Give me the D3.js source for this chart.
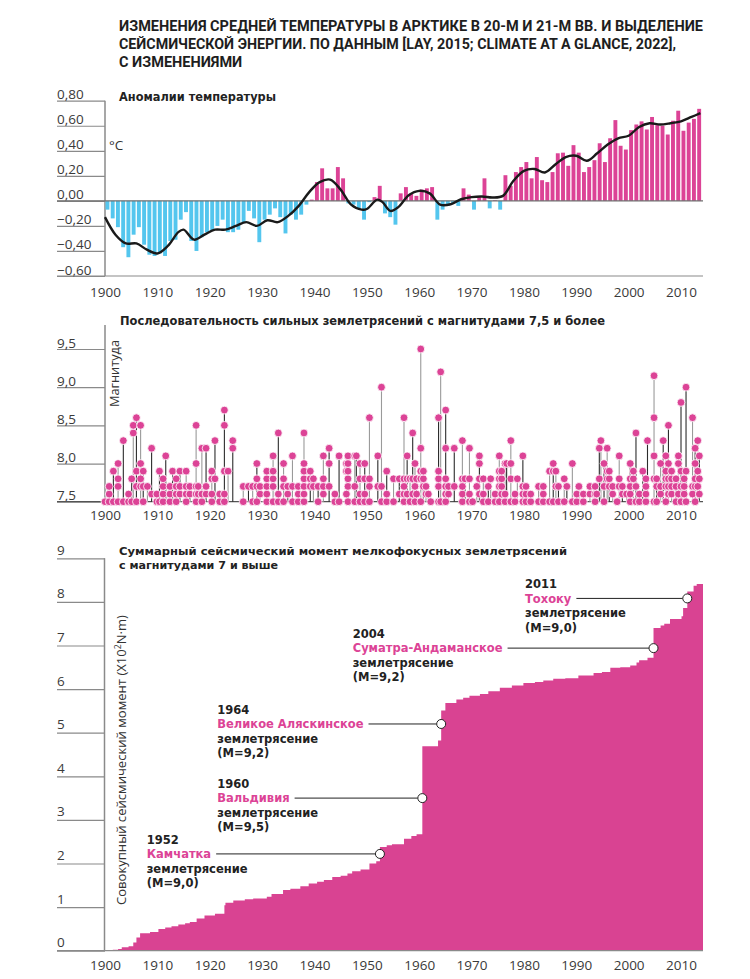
<!DOCTYPE html>
<html><head><meta charset="utf-8">
<script src="https://cdn.jsdelivr.net/npm/d3@7"></script>
<style>
body{margin:0;background:#fff;}
svg{display:block;}
</style></head><body>
<svg id="c" width="750" height="979"></svg>
<script>
// ---------- DATA ----------
const titleLines = [
  "ИЗМЕНЕНИЯ СРЕДНЕЙ ТЕМПЕРАТУРЫ В АРКТИКЕ В 20-М И 21-М ВВ. И ВЫДЕЛЕНИЕ",
  "СЕЙСМИЧЕСКОЙ ЭНЕРГИИ. ПО ДАННЫМ [LAY, 2015; CLIMATE AT A GLANCE, 2022],",
  "С ИЗМЕНЕНИЯМИ"
];
const xTicks = [1900, 1910, 1920, 1930, 1940, 1950, 1960, 1970, 1980, 1990, 2000, 2010];

// Panel 1: temperature anomalies
const tempTicks = [-0.6, -0.4, -0.2, 0, 0.2, 0.4, 0.6, 0.8];
const tempYears = d3.range(1900, 2014);
const tempValues = [
  -0.07, -0.14, -0.21, -0.37, -0.45, -0.27, -0.21, -0.35, -0.43, -0.44,
  -0.42, -0.44, -0.32, -0.31, -0.15, -0.09, -0.32, -0.40, -0.29, -0.25,
  -0.24, -0.20, -0.15, -0.25, -0.25, -0.23, -0.17, -0.08, -0.14, -0.33,
  -0.15, -0.11, -0.06, -0.13, -0.26, -0.11, -0.15, -0.11, -0.03, 0.01,
  0.15, 0.26, 0.10, 0.10, 0.27, 0.18, -0.02, -0.03, -0.06, -0.15,
  -0.01, 0.03, 0.12, -0.10, -0.13, -0.19, 0.06, 0.11, 0.06, 0.04,
  0.09, 0.10, 0.11, -0.15, -0.07, -0.04, -0.02, -0.04, 0.10, 0.05,
  -0.07, 0.03, 0.18, -0.06, 0.005, -0.07, 0.205, 0.12, 0.23, 0.27,
  0.31, 0.18, 0.35, 0.165, 0.15, 0.23, 0.38, 0.385, 0.28, 0.445,
  0.385, 0.23, 0.27, 0.325, 0.46, 0.31, 0.50, 0.645, 0.44, 0.41,
  0.565, 0.61, 0.635, 0.57, 0.67, 0.605, 0.60, 0.53, 0.64, 0.72,
  0.56, 0.625, 0.655, 0.735
];
const trendYears = [1900,1902,1904,1906,1908,1910,1912,1914,1915,1917,1919,1921,1923,1925,1927,1929,1931,1933,1935,1937,1939,1941,1943,1945,1947,1949,1950,1952,1953,1954.5,1956,1958,1960,1962,1964,1966,1968,1970,1972,1974,1976,1978,1980,1982,1984,1986,1988,1990,1992,1994,1996,1998,2000,2002,2004,2006,2008,2010,2012,2013.7];
const trendValues = [-0.13,-0.27,-0.34,-0.34,-0.39,-0.42,-0.36,-0.25,-0.23,-0.31,-0.27,-0.23,-0.23,-0.20,-0.17,-0.20,-0.155,-0.17,-0.12,-0.04,0.07,0.15,0.17,0.09,-0.03,-0.07,-0.065,0.01,-0.01,-0.08,-0.05,0.045,0.08,0.06,-0.03,-0.027,0.013,0.03,0.035,0.027,0.04,0.16,0.24,0.255,0.227,0.29,0.35,0.36,0.32,0.38,0.45,0.50,0.52,0.59,0.62,0.61,0.62,0.635,0.67,0.70];

// Panel 2: strong earthquakes (M >= 7.5), grouped by date column
const magTicks = [7.5, 8.0, 8.5, 9.0, 9.5];
const quakeYears = [1900.0,1900.8,1901.6,1902.5,1903.5,1904.5,1905.1,1905.4,1906.0,1906.8,1907.3,1908.1,1908.9,1909.9,1910.4,1911.1,1911.6,1912.4,1912.9,1913.6,1914.3,1915.5,1916.2,1917.4,1917.8,1918.5,1919.3,1920.4,1921.0,1921.9,1922.8,1923.5,1924.4,1926.4,1927.4,1928.2,1929.0,1929.6,1930.9,1932.1,1933.1,1934.1,1934.9,1935.8,1936.9,1938.0,1939.2,1939.8,1940.7,1941.7,1942.8,1943.9,1944.7,1946.1,1946.4,1947.7,1948.0,1948.7,1949.6,1950.5,1952.1,1952.8,1953.8,1955.1,1956.2,1957.1,1957.7,1958.25,1958.76,1959.2,1959.5,1960.3,1960.8,1961.3,1961.75,1962.2,1963.7,1964.1,1965.06,1965.6,1966.7,1968.25,1968.75,1969.6,1970.2,1971.0,1971.5,1972.25,1973.2,1973.65,1974.5,1975.3,1975.75,1976.4,1976.7,1977.5,1978.3,1978.75,1979.8,1980.4,1981.3,1982.8,1983.7,1984.9,1985.6,1986.1,1986.6,1987.7,1988.2,1989.25,1990.1,1990.5,1991.35,1992.6,1993.6,1993.9,1994.4,1994.7,1995.3,1995.9,1996.3,1996.95,1997.8,1998.2,1998.8,1999.6,2000.3,2000.9,2001.4,2002.05,2002.7,2003.3,2003.6,2004.85,2005.35,2006.1,2006.6,2007.1,2007.6,2008.2,2009.05,2009.5,2010.0,2010.6,2010.96,2012.2,2012.7,2013.2,2013.5];
const quakeMags = [
  [7.5],[7.5,7.6,7.7],[7.5,7.9],[7.5,7.7,7.8,8.0],[7.5,8.3],[7.5,7.6],[7.5,7.8],[8.4,8.5],[7.5,7.7,7.9,8.6],[7.7,7.8,8.0,8.5],
  [7.5,7.7,7.9],[7.7],[7.6,8.2],[7.5,7.6],[7.5,7.9],[7.5,7.6,7.7,7.8],[8.1],[7.5,7.6,7.7],[7.9],[7.5,7.6,7.7,7.8],
  [7.6,7.7,7.9],[7.5,7.6,7.7,7.9],[7.6,7.7],[7.5,7.6,7.7,8.0,8.5],[7.6,7.7],[7.5,7.6,8.2],[7.6,7.7,8.2],[7.5,7.6,7.8,7.9],[7.8,8.3],[7.5,7.6],
  [7.5,7.6,7.9,8.5,8.7],[7.9],[8.2,8.3],[7.5,7.7],[7.7],[7.5,7.7],[7.5,7.7,7.8,8.0],[7.6,7.7],[7.5,7.6,7.7,7.8,7.9],[7.5,7.7,7.8,7.9,8.1],
  [7.5,7.6,8.4],[7.5,7.7,7.8,8.0],[7.6,7.7],[7.5,7.7,8.1],[7.5,7.6,7.7],[7.5,7.6,7.7,7.8,7.9,8.0,8.4],[7.7,7.8,7.9],[7.7,7.8],[7.5,7.7],[7.6,7.7,7.8,8.1],
  [7.7,8.0,8.2],[7.5,7.6],[7.5,8.1],[7.6,7.9,8.0],[7.5,7.7,7.8,7.9,8.0,8.1],[7.5,7.7,8.1],[8.1],[7.5,7.6,7.8,8.0],[7.5,7.6,7.8,8.0],[7.5,7.7,7.8,8.6],
  [7.7,8.1],[7.5,7.7,9.0],[7.5,7.6,7.9],[7.5,7.8],[7.6,7.8],[7.5,7.6,7.7,7.8,8.6],[7.6,7.8,8.1],[7.5,7.8],[7.6,7.8,8.4],[7.5,7.7,8.0],
  [7.6,7.8],[7.5,7.8,7.9,8.2,9.5],[7.7,7.8,7.9],[7.6,7.7],[7.6],[7.5],[7.5,7.7,7.8,7.9,8.6],[7.5,9.2],[7.5,7.6,7.7,7.8,8.2,8.7],[7.6,7.7],
  [7.7,8.2],[7.5,7.6,7.7,7.8,8.3],[7.8],[7.5,7.6,7.8,8.2],[7.5],[7.7],[7.6,7.8,8.0,8.1],[7.5,7.6,7.8],[7.5,7.7],[7.8],
  [7.5,7.6],[7.5,7.7,7.8,7.9,8.1],[7.6,7.7,7.8,7.9],[7.5,7.6,8.0],[8.0],[7.5,7.8,8.0,8.3],[7.5,7.6],[7.8],[7.5,7.6,7.7,8.1],[7.5,7.6,7.7],
  [7.5,7.6],[7.5,7.7],[7.5,7.6,7.7],[7.5,7.9],[7.5,7.9,8.0],[7.7,7.9],[7.5,7.7],[7.5,7.8],[7.7],[7.5,8.0],
  [7.5,7.6],[7.7],[7.5,7.6],[7.6,7.7],[7.5,7.6,7.7],[7.6],[7.8,8.2],[8.3],[7.5,7.7,8.0],[7.8,7.9,8.2],
  [7.7,7.8,7.9],[7.6,7.7],[7.5],[7.7,7.8,8.1],[7.6,7.7],[7.6],[7.5,7.6,7.7,7.8,8.0],[7.8,7.9],[7.5,7.7,8.4],[7.5,7.6],
  [7.9],[7.5,7.6,7.7,7.8],[8.3],[7.5,7.8,8.1,8.6,9.15],[7.5,7.7,7.8],[7.6,7.7,8.0],[8.3],[7.5,7.7,7.8,7.9,8.1],[7.6,7.7,7.8,8.0,8.5],[7.6,7.7,7.8,7.9],
  [7.5,7.7,7.8],[7.6,8.0,8.1],[7.5,7.7,7.9,8.8],[7.6,7.7,7.8],[7.5,7.9,9.0],[7.6,7.7,8.6],[7.5,7.7,7.8,8.0,8.2],[7.7,7.9,8.3],[7.6,7.8,8.1]
];

// Panel 3: cumulative seismic moment (step starts)
const momentTicks = [0,1,2,3,4,5,6,7,8,9];
const momentYears = [1900,1901.5,1902.5,1903.2,1904.5,1905.4,1906.0,1906.7,1908.6,1910.2,1911.5,1912.7,1914.0,1915.3,1916.2,1917.5,1919.0,1921.0,1922.8,1923.0,1924.5,1926.7,1928.3,1930.9,1931.8,1934.0,1935.4,1937.3,1938.9,1940.5,1941.8,1943.4,1945.0,1946.3,1947.2,1948.8,1950.5,1951.8,1952.5,1953.8,1954.8,1957.1,1958.5,1959.5,1960.6,1963.6,1964.2,1965.0,1967.1,1968.4,1969.6,1971.6,1973.2,1975.4,1977.7,1979.9,1982.1,1983.7,1985.6,1987.9,1990.4,1993.3,1994.9,1996.5,1998.4,2000.3,2001.5,2002.0,2003.6,2004.75,2006.1,2006.8,2007.9,2010.1,2010.4,2011.2,2012.4,2013.0,2014.2];
const momentValues = [0,0.02,0.04,0.08,0.10,0.19,0.30,0.40,0.43,0.50,0.53,0.56,0.60,0.63,0.66,0.74,0.81,0.85,1.04,1.10,1.15,1.18,1.20,1.24,1.30,1.39,1.42,1.48,1.54,1.58,1.62,1.69,1.72,1.77,1.82,1.86,2.00,2.05,2.38,2.42,2.44,2.57,2.63,2.67,4.69,4.82,5.51,5.68,5.76,5.80,5.85,5.89,5.95,6.03,6.08,6.14,6.16,6.20,6.24,6.25,6.31,6.37,6.39,6.49,6.50,6.54,6.61,6.66,6.72,7.40,7.46,7.50,7.61,7.67,7.86,8.24,8.37,8.41,8.41];

const annoYears = ["1952", "1960", "1964", "2004", "2011"];
const annoNames = ["Камчатка", "Вальдивия", "Великое Аляскинское", "Суматра-Андаманское", "Тохоку"];
const annoMags = ["(M=9,0)", "(M=9,5)", "(M=9,2)", "(M=9,2)", "(M=9,0)"];
const annoPointYears = [1952.5, 1960.6, 1964.2, 2004.75, 2011.2];
const annoPointValues = [2.22, 3.5, 5.2, 6.94, 8.08];

// ---------- STYLE / LAYOUT ----------
const PINK = "#dc4396", BLUE = "#54c6ee", AREA = "#d94392";
const TICKFONT = "'Open Sans', 'Liberation Sans', sans-serif";
const BOLDFONT = "'DejaVu Sans', sans-serif";
const svg = d3.select("#c");

const x = d3.scaleLinear().domain([1900, 2014.2]).range([105, 703]);

function text(g, s, xx, yy, o = {}) {
  const t = g.append("text").attr("x", xx).attr("y", yy).text(s)
    .attr("font-family", o.family || BOLDFONT)
    .attr("font-size", o.size || 12)
    .attr("font-weight", o.weight || "bold")
    .attr("fill", o.fill || "#222");
  if (o.len) t.attr("textLength", o.len).attr("lengthAdjust", "spacingAndGlyphs");
  if (o.anchor) t.attr("text-anchor", o.anchor);
  return t;
}

function yAxis(scale, ticks, fmt, labelOffset) {
  const g = svg.append("g").attr("transform", "translate(57,0)");
  g.call(d3.axisRight(scale).tickValues(ticks).tickSize(48).tickFormat(fmt));
  g.select(".domain").remove();
  g.selectAll(".tick line").attr("stroke", "#8a8a8a").attr("stroke-width", 1.2);
  g.selectAll(".tick text").attr("x", 0).attr("y", -labelOffset).attr("dy", 0)
    .attr("text-anchor", "start").attr("font-family", TICKFONT)
    .attr("font-size", 13.5).attr("fill", "#3a3a3a");
  return g;
}
function xAxis(baseline) {
  const g = svg.append("g").attr("transform", `translate(0,${baseline})`);
  g.call(d3.axisBottom(x).tickValues(xTicks).tickSize(0).tickFormat(d3.format("d")));
  g.select(".domain").remove();
  g.selectAll(".tick text").attr("y", 0).attr("dy", 0)
    .attr("font-family", TICKFONT).attr("font-size", 13.5).attr("fill", "#3a3a3a");
}
function hline(y, x1, x2, color, w) {
  svg.append("line").attr("x1", x1).attr("x2", x2).attr("y1", y).attr("y2", y)
    .attr("stroke", color).attr("stroke-width", w);
}
function vline(xx, y1, y2) {
  svg.append("line").attr("x1", xx).attr("x2", xx).attr("y1", y1).attr("y2", y2)
    .attr("stroke", "#8a8a8a").attr("stroke-width", 1.5);
}

// ---------- TITLE ----------
const tFont = { family: "Roboto, 'DejaVu Sans', sans-serif", size: 14.5, weight: "bold", fill: "#1e1e1e" };
text(svg, titleLines[0], 119, 31, { ...tFont, len: 584 });
text(svg, titleLines[1], 119, 49, { ...tFont, len: 557 });
text(svg, titleLines[2], 119, 67, { ...tFont });

// ---------- PANEL 1 ----------
const yT = d3.scaleLinear().domain([-0.6, 0.8]).range([276, 100.7]);
yAxis(yT, tempTicks, d => d3.format(".2f")(d).replace(".", ",").replace("-", "−"), 2);
vline(105, 100.7, 276);
hline(yT(-0.6), 57, 703, "#8a8a8a", 1.2);

svg.append("g").selectAll("rect").data(tempYears).join("rect")
  .attr("x", d => x(d) + 0.5)
  .attr("width", 3.9)
  .attr("y", (d, i) => Math.min(yT(tempValues[i]), yT(0)))
  .attr("height", (d, i) => Math.abs(yT(tempValues[i]) - yT(0)))
  .attr("fill", (d, i) => tempValues[i] >= 0 ? PINK : BLUE);
hline(yT(0), 57, 703, "#6f6f6f", 1.2);

svg.append("path")
  .attr("d", d3.line().x(d => x(d)).y((d, i) => yT(trendValues[i])).curve(d3.curveCatmullRom.alpha(0.5))(trendYears))
  .attr("fill", "none").attr("stroke", "#1a1a1a").attr("stroke-width", 2.4);

text(svg, "Аномалии температуры", 119, 100.5, { size: 11.5, len: 157 });
text(svg, "°C", 109, 150, { family: TICKFONT, size: 13.5, weight: "normal", fill: "#333" });
xAxis(297);

// ---------- PANEL 2 ----------
const yM = d3.scaleLinear().domain([7.5, 9.5]).range([501.7, 349]);
yAxis(yM, magTicks, d => d3.format(".1f")(d).replace(".", ","), 2);
vline(105, 325, 502);
hline(yM(7.5), 57, 703, "#555", 1.2);

const cols = quakeYears.map((yr, i) => ({ yr, mags: quakeMags[i], i }));
svg.append("g").selectAll("line").data(cols).join("line")
  .attr("x1", d => x(d.yr)).attr("x2", d => x(d.yr))
  .attr("y1", yM(7.5)).attr("y2", d => yM(d3.max(d.mags)))
  .attr("stroke", d => d.i % 2 ? "#9a9a9a" : "#2c2c2c").attr("stroke-width", 1.1);
const dots = cols.flatMap(c => c.mags.map(m => ({ yr: c.yr, m })));
svg.append("g").selectAll("circle").data(dots).join("circle")
  .attr("cx", d => x(d.yr)).attr("cy", d => yM(d.m)).attr("r", 3.9)
  .attr("fill", PINK).attr("stroke", "#fff").attr("stroke-width", 0.8);

text(svg, "Последовательность сильных землетрясений с магнитудами 7,5 и более", 120, 325, { size: 11.5, len: 485 });
text(svg, "Магнитуда", 0, 0, { family: TICKFONT, size: 13, weight: "normal", fill: "#333", len: 67 })
  .attr("transform", "translate(119,407) rotate(-90)");
xAxis(520);

// ---------- PANEL 3 ----------
const yC = d3.scaleLinear().domain([0, 9]).range([950.7, 558.3]);
yAxis(yC, momentTicks, d => d, 4);
svg.append("path")
  .attr("d", d3.area().x(d => x(d)).y0(yC(0)).y1((d, i) => yC(momentValues[i])).curve(d3.curveStepAfter)(momentYears))
  .attr("fill", AREA);
vline(104.5, 558.3, 951);
hline(yC(0), 57, 703, "#8a8a8a", 1.2);

text(svg, "Суммарный сейсмический момент мелкофокусных землетрясений", 119, 555, { size: 11, len: 448 });
text(svg, "с магнитудами 7 и выше", 119, 568.5, { size: 11, len: 159 });

const yl = svg.append("text").attr("transform", "translate(126,905) rotate(-90)")
  .attr("font-family", TICKFONT).attr("font-size", 13.5).attr("fill", "#333")
  .attr("textLength", 290).attr("lengthAdjust", "spacingAndGlyphs");
yl.append("tspan").text("Совокупный сейсмический момент (X10");
yl.append("tspan").text("2").attr("font-size", 9).attr("dy", -5);
yl.append("tspan").text("N·m)").attr("dy", 5);

const labelX = [146.7, 217.3, 217.3, 352.7, 525];
annoYears.forEach((yrLabel, i) => {
  const cx = x(annoPointYears[i]), cy = yC(annoPointValues[i]);
  const lx = labelX[i];
  const base = cy + 4.3; // baseline of name line
  const g = svg.append("g");
  text(g, yrLabel, lx, base - 14.4, { size: 11.5 });
  const nm = text(g, annoNames[i], lx, base, { size: 11.5, fill: PINK });
  text(g, "землетрясение", lx, base + 14.4, { size: 11.5 });
  text(g, annoMags[i], lx, base + 28.8, { size: 11.5 });
  const w = nm.node().getComputedTextLength();
  g.append("line").attr("x1", lx + w + 5).attr("x2", cx - 4.5).attr("y1", cy).attr("y2", cy)
    .attr("stroke", "#222").attr("stroke-width", 1);
  g.append("circle").attr("cx", cx).attr("cy", cy).attr("r", 4.5)
    .attr("fill", "#fff").attr("stroke", "#222").attr("stroke-width", 1);
});
xAxis(970);
</script>
</body></html>
